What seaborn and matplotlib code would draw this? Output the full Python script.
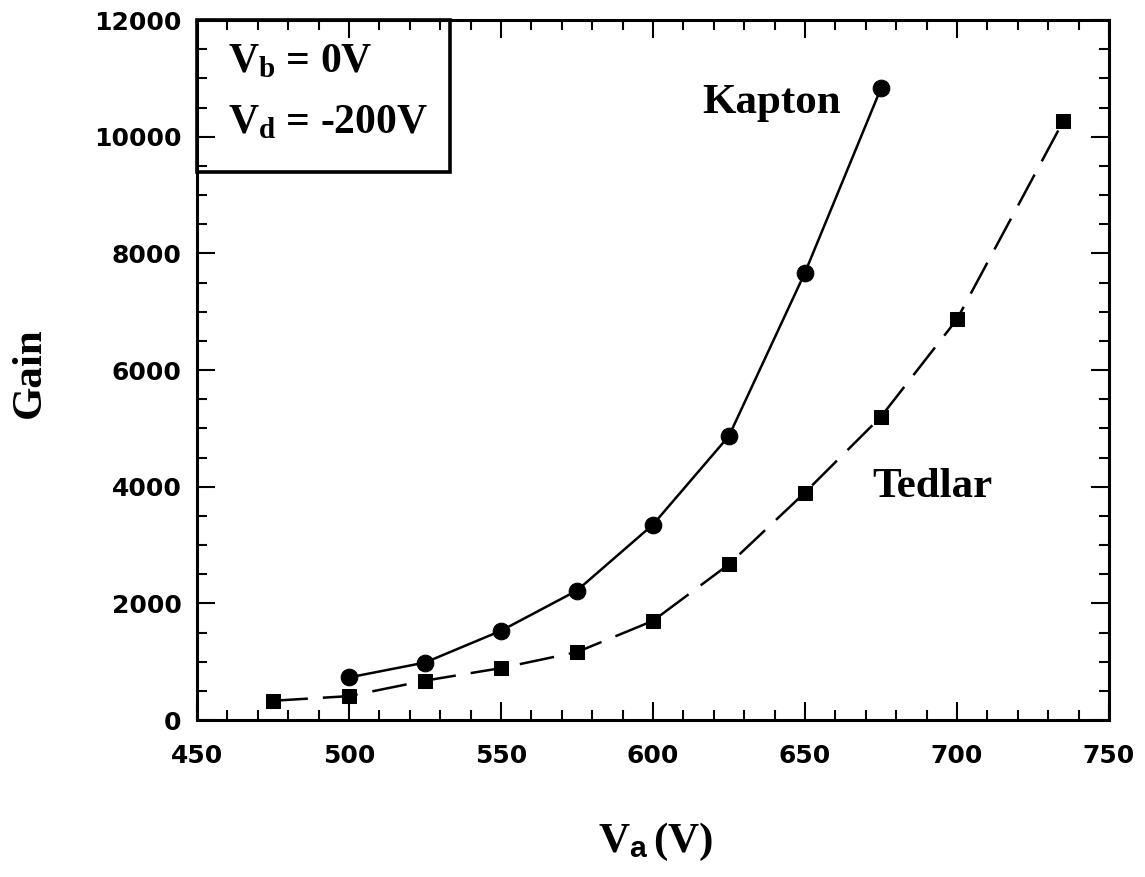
import numpy as np
import pandas as pd
import matplotlib
matplotlib.use("Agg")
import matplotlib.pyplot as plt
import seaborn as sns
from matplotlib.ticker import MultipleLocator
from matplotlib.patches import Rectangle

# ---- data ----
kapton_va = [500, 525, 550, 575, 600, 625, 650, 675]
kapton_gain = [730, 985, 1530, 2220, 3350, 4870, 7670, 10830]
tedlar_va = [475, 500, 525, 550, 575, 600, 625, 650, 675, 700, 735]
tedlar_gain = [330, 410, 675, 890, 1165, 1700, 2670, 3900, 5200, 6870, 10270]
series_names = ["Kapton", "Tedlar"]
x_ticks = [450, 500, 550, 600, 650, 700, 750]
x_tick_labels = ["450", "500", "550", "600", "650", "700", "750"]
y_ticks = [0, 2000, 4000, 6000, 8000, 10000, 12000]
y_tick_labels = ["0", "2000", "4000", "6000", "8000", "10000", "12000"]

df = pd.concat([
    pd.DataFrame({"Va": kapton_va, "Gain": kapton_gain, "Material": series_names[0]}),
    pd.DataFrame({"Va": tedlar_va, "Gain": tedlar_gain, "Material": series_names[1]}),
], ignore_index=True)

sns.set_style("ticks")
plt.rcParams["font.family"] = ["DejaVu Sans"]
plt.rcParams["text.color"] = "black"
plt.rcParams["axes.labelcolor"] = "black"
plt.rcParams["xtick.color"] = "black"
plt.rcParams["ytick.color"] = "black"
plt.rcParams["axes.edgecolor"] = "black"
plt.rcParams["mathtext.fontset"] = "custom"
plt.rcParams["mathtext.rm"] = "Liberation Serif:bold"
plt.rcParams["mathtext.it"] = "Liberation Serif:bold"
plt.rcParams["mathtext.bf"] = "Liberation Serif:bold"
plt.rcParams["mathtext.sf"] = "Liberation Sans:bold"

fig = plt.figure(figsize=(11.45, 8.77), dpi=100)
ax = fig.add_axes([0.172, 0.179, 0.7965, 0.798])

sns.lineplot(
    data=df, x="Va", y="Gain", hue="Material", style="Material",
    palette={"Kapton": "black", "Tedlar": "black"},
    markers={"Kapton": "o", "Tedlar": "s"},
    dashes={"Kapton": "", "Tedlar": (14, 6)},
    lw=1.8, markeredgecolor="black", legend=False, ax=ax,
)
for line in ax.lines:
    if line.get_marker() == "o":
        line.set_markersize(12)
    else:
        line.set_markersize(10)

ax.set_xlim(450, 750)
ax.set_ylim(0, 12000)
ax.set_xticks(x_ticks, x_tick_labels, fontweight="bold", fontsize=18, color="black")
ax.set_yticks(y_ticks, y_tick_labels, fontweight="bold", fontsize=18, color="black")
ax.xaxis.set_minor_locator(MultipleLocator(10))
ax.yaxis.set_minor_locator(MultipleLocator(500))
ax.tick_params(which="both", direction="in", top=True, right=True, width=1.5, color="black")
ax.tick_params(which="major", length=13)
ax.tick_params(which="minor", length=7)
ax.tick_params(axis="x", pad=17)
ax.tick_params(axis="y", pad=11)
for s in ax.spines.values():
    s.set_linewidth(2.2)
    s.set_color("black")
ax.set_xlabel("")
ax.set_ylabel("")

serif_bold = dict(family="Liberation Serif", weight="bold", color="black")

# annotation box
ax.add_patch(Rectangle((0, 0.783), 0.277, 0.217, transform=ax.transAxes,
                       fill=False, lw=2.6, edgecolor="black", clip_on=False))
ax.text(0.034, 0.926, r"$\mathregular{V_b}$ = 0V", transform=ax.transAxes,
        fontsize=30, va="baseline", ha="left", **serif_bold)
ax.text(0.034, 0.839, r"$\mathregular{V_d}$ = -200V", transform=ax.transAxes,
        fontsize=30, va="baseline", ha="left", **serif_bold)

ax.text(0.554, 0.867, "Kapton", transform=ax.transAxes,
        fontsize=31, va="baseline", ha="left", **serif_bold)
ax.text(0.741, 0.319, "Tedlar", transform=ax.transAxes,
        fontsize=31, va="baseline", ha="left", **serif_bold)

fig.text(0.026, 0.575, "Gain", rotation=90, ha="center", va="center",
         fontsize=31, **serif_bold)
fig.text(0.522, 0.0285, r"$\mathregular{V}_{\mathsf{a}}\,$(V)", fontsize=31,
         ha="left", va="baseline", **serif_bold)

fig.savefig("out.png", dpi=100, facecolor="white")
